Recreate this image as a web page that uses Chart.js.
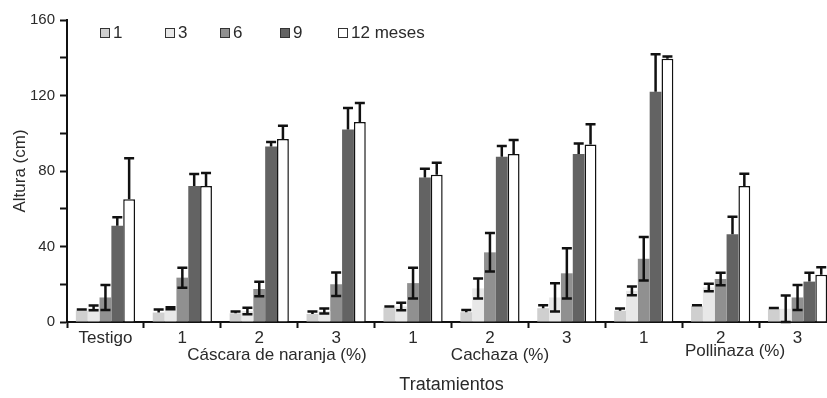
<!DOCTYPE html>
<html>
<head>
<meta charset="utf-8">
<script src="https://cdn.jsdelivr.net/npm/chart.js@4.4.1/dist/chart.umd.min.js"></script>
<style>
    html, body { margin: 0; padding: 0; background: #fff; overflow: hidden; }
    #wrap { width: 836px; height: 398px; }
</style>
</head>
<body>
<div id="wrap"><canvas id="chart"></canvas></div>
<script>
// Treatments on the x axis
const categories = ['Testigo', '1', '2', '3', '1', '2', '3', '1', '2', '3'];
const groupNames = ['Cáscara de naranja (%)', 'Cachaza (%)', 'Pollinaza (%)'];
const seriesNames = ['1', '3', '6', '9', '12 meses'];
const yLabelTicks = [0, 40, 80, 120, 160];

// Plant height (cm) per month
const mes1 = [6, 5, 4.6, 4.3, 7.6, 5.2, 7.3, 6, 8.5, 7];
const mes3 = [7.5, 7.3, 5.8, 5.8, 8.2, 17.8, 13, 16.5, 18.3, 7];
const mes6 = [13, 23.5, 17.5, 20, 20.6, 36.9, 25.8, 33.5, 22.8, 13];
const mes9 = [51, 72, 93, 102, 76.5, 87.5, 89, 122, 46.5, 21.4];
const mes12 = [65, 72, 97, 106, 78, 89, 94, 139.5, 72, 25];

// Standard errors
const err1 = [0.6, 1.6, 0.9, 1.3, 0.6, 1.2, 1.6, 1.2, 0.4, 0.4];
const err3 = [1.3, 0.5, 1.7, 1.3, 2, 5.3, 7.5, 2.3, 2, 7];
const err6 = [6.6, 5.3, 3.8, 6.2, 8.2, 10.2, 13.3, 11.5, 3.3, 6.6];
const err9 = [4.5, 6.4, 2.3, 11.4, 4.7, 5.7, 5.6, 19.8, 9.3, 4.7];
const err12 = [21.7, 7, 7, 10, 6.4, 7.4, 10.8, 1.2, 6.6, 4];

const FONT = 'Liberation Sans, Arial, sans-serif';
const TEXT = '#2a2a2a';

// Error bars drawn on top of the bars
const errorBars = {
    id: 'errorBars',
    afterDatasetsDraw(chart) {
        const ctx = chart.ctx;
        const y = chart.scales.y;
        ctx.save();
        ctx.strokeStyle = '#111';
        ctx.lineWidth = 2.5;
        chart.data.datasets.forEach((ds, i) => {
            chart.getDatasetMeta(i).data.forEach((bar, j) => {
                const v = ds.data[j];
                const e = ds.errors[j];
                const top = y.getPixelForValue(v + e);
                const bottom = ds.oneSided ? bar.y : y.getPixelForValue(Math.max(v - e, 0));
                ctx.beginPath();
                ctx.moveTo(bar.x, top);
                ctx.lineTo(bar.x, bottom);
                ctx.moveTo(bar.x - 5, top);
                ctx.lineTo(bar.x + 5, top);
                if (!ds.oneSided) {
                    ctx.moveTo(bar.x - 5, bottom);
                    ctx.lineTo(bar.x + 5, bottom);
                }
                ctx.stroke();
            });
        });
        ctx.restore();
    }
};

// Legend inside the plot + treatment group names under the ticks
const extras = {
    id: 'extras',
    afterDraw(chart) {
        const ctx = chart.ctx;
        const legendX = [100, 165, 220, 280, 338];
        ctx.save();
        ctx.font = '17px ' + FONT;
        ctx.textBaseline = 'alphabetic';
        ctx.textAlign = 'left';
        chart.data.datasets.forEach((ds, i) => {
            const x = legendX[i];
            ctx.fillStyle = ds.backgroundColor;
            ctx.fillRect(x, 28, 9, 9);
            ctx.strokeStyle = '#333';
            ctx.lineWidth = 1;
            ctx.strokeRect(x + 0.5, 28.5, 9, 9);
            ctx.fillStyle = TEXT;
            ctx.fillText(ds.label, x + 13, 38);
        });

        ctx.font = '17px ' + FONT;
        ctx.textAlign = 'center';
        const gx = [277, 500, 735];
        const gy = [360, 360, 356];
        groupNames.forEach((name, i) => ctx.fillText(name, gx[i], gy[i]));
        ctx.restore();
    }
};

const colors = ['#cfcfcf', '#e8e8e8', '#909090', '#636363', '#ffffff'];
const values = [mes1, mes3, mes6, mes9, mes12];
const errors = [err1, err3, err6, err9, err12];

new Chart(document.getElementById('chart'), {
    type: 'bar',
    data: {
        labels: categories,
        datasets: seriesNames.map((name, i) => ({
            label: name,
            data: values[i],
            errors: errors[i],
            oneSided: i === 0 || i >= 3,
            backgroundColor: colors[i],
            borderColor: '#111',
            borderWidth: i === 4 ? 1.5 : 0,
            categoryPercentage: 0.77,
            barPercentage: 1
        }))
    },
    options: {
        responsive: true,
        maintainAspectRatio: false,
        animation: false,
        layout: { padding: { top: 20, left: 0, right: 0, bottom: 0 } },
        plugins: {
            legend: { display: false },
            tooltip: { enabled: false }
        },
        scales: {
            x: {
                grid: { drawOnChartArea: false, tickLength: 6, tickWidth: 2, tickColor: '#111', offset: true },
                border: { color: '#111', width: 2 },
                ticks: { color: TEXT, font: { family: FONT, size: 17 }, padding: 0, maxRotation: 0, autoSkip: false },
                title: { display: true, text: 'Tratamientos', color: TEXT, font: { family: FONT, size: 18 }, padding: { top: 0, bottom: 2 } },
                afterFit: s => { s.height = 76; }
            },
            y: {
                min: 0,
                max: 160,
                grid: { drawOnChartArea: false, tickLength: 7, tickWidth: 2, tickColor: '#111' },
                border: { color: '#111', width: 2 },
                ticks: {
                    stepSize: 20,
                    color: TEXT,
                    font: { family: FONT, size: 15 },
                    padding: 5,
                    callback: v => yLabelTicks.includes(v) ? v : ''
                },
                title: { display: true, text: 'Altura (cm)', color: TEXT, font: { family: FONT, size: 17 }, padding: { top: 10, bottom: 0 } },
                afterFit: s => { s.width = 67; }
            }
        }
    },
    plugins: [errorBars, extras]
});
</script>
</body>
</html>
